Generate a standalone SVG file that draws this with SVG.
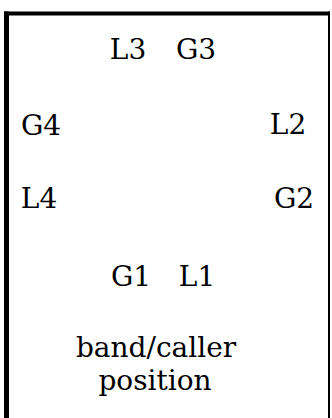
<svg xmlns="http://www.w3.org/2000/svg" width="332" height="418" viewBox="0 0 332 418">
<style>
.t{font-family:'DejaVu Serif','Liberation Serif',serif;font-size:28px;fill:#000;text-anchor:middle}
</style>
<rect width="332" height="418" fill="#fff"/>
<g id="border" fill="#000">
<rect x="4" y="11.5" width="326" height="4"/>
<rect x="4" y="11.5" width="5" height="407"/>
<rect x="328" y="11.5" width="2" height="407"/>
</g>
<g id="L3"><text class="t" x="128" y="59">L3</text></g>
<g id="G3"><text class="t" x="196" y="59">G3</text></g>
<g id="G4"><text class="t" x="41" y="135">G4</text></g>
<g id="L2"><text class="t" x="288" y="134">L2</text></g>
<g id="L4"><text class="t" x="39" y="208">L4</text></g>
<g id="G2"><text class="t" x="294" y="208">G2</text></g>
<g id="G1"><text class="t" x="131" y="286">G1</text></g>
<g id="L1"><text class="t" x="197" y="286">L1</text></g>
<g id="caller"><text class="t" x="156" y="357">band/caller</text><text class="t" x="155" y="390">position</text></g>
<g id="connectors"/>
</svg>
